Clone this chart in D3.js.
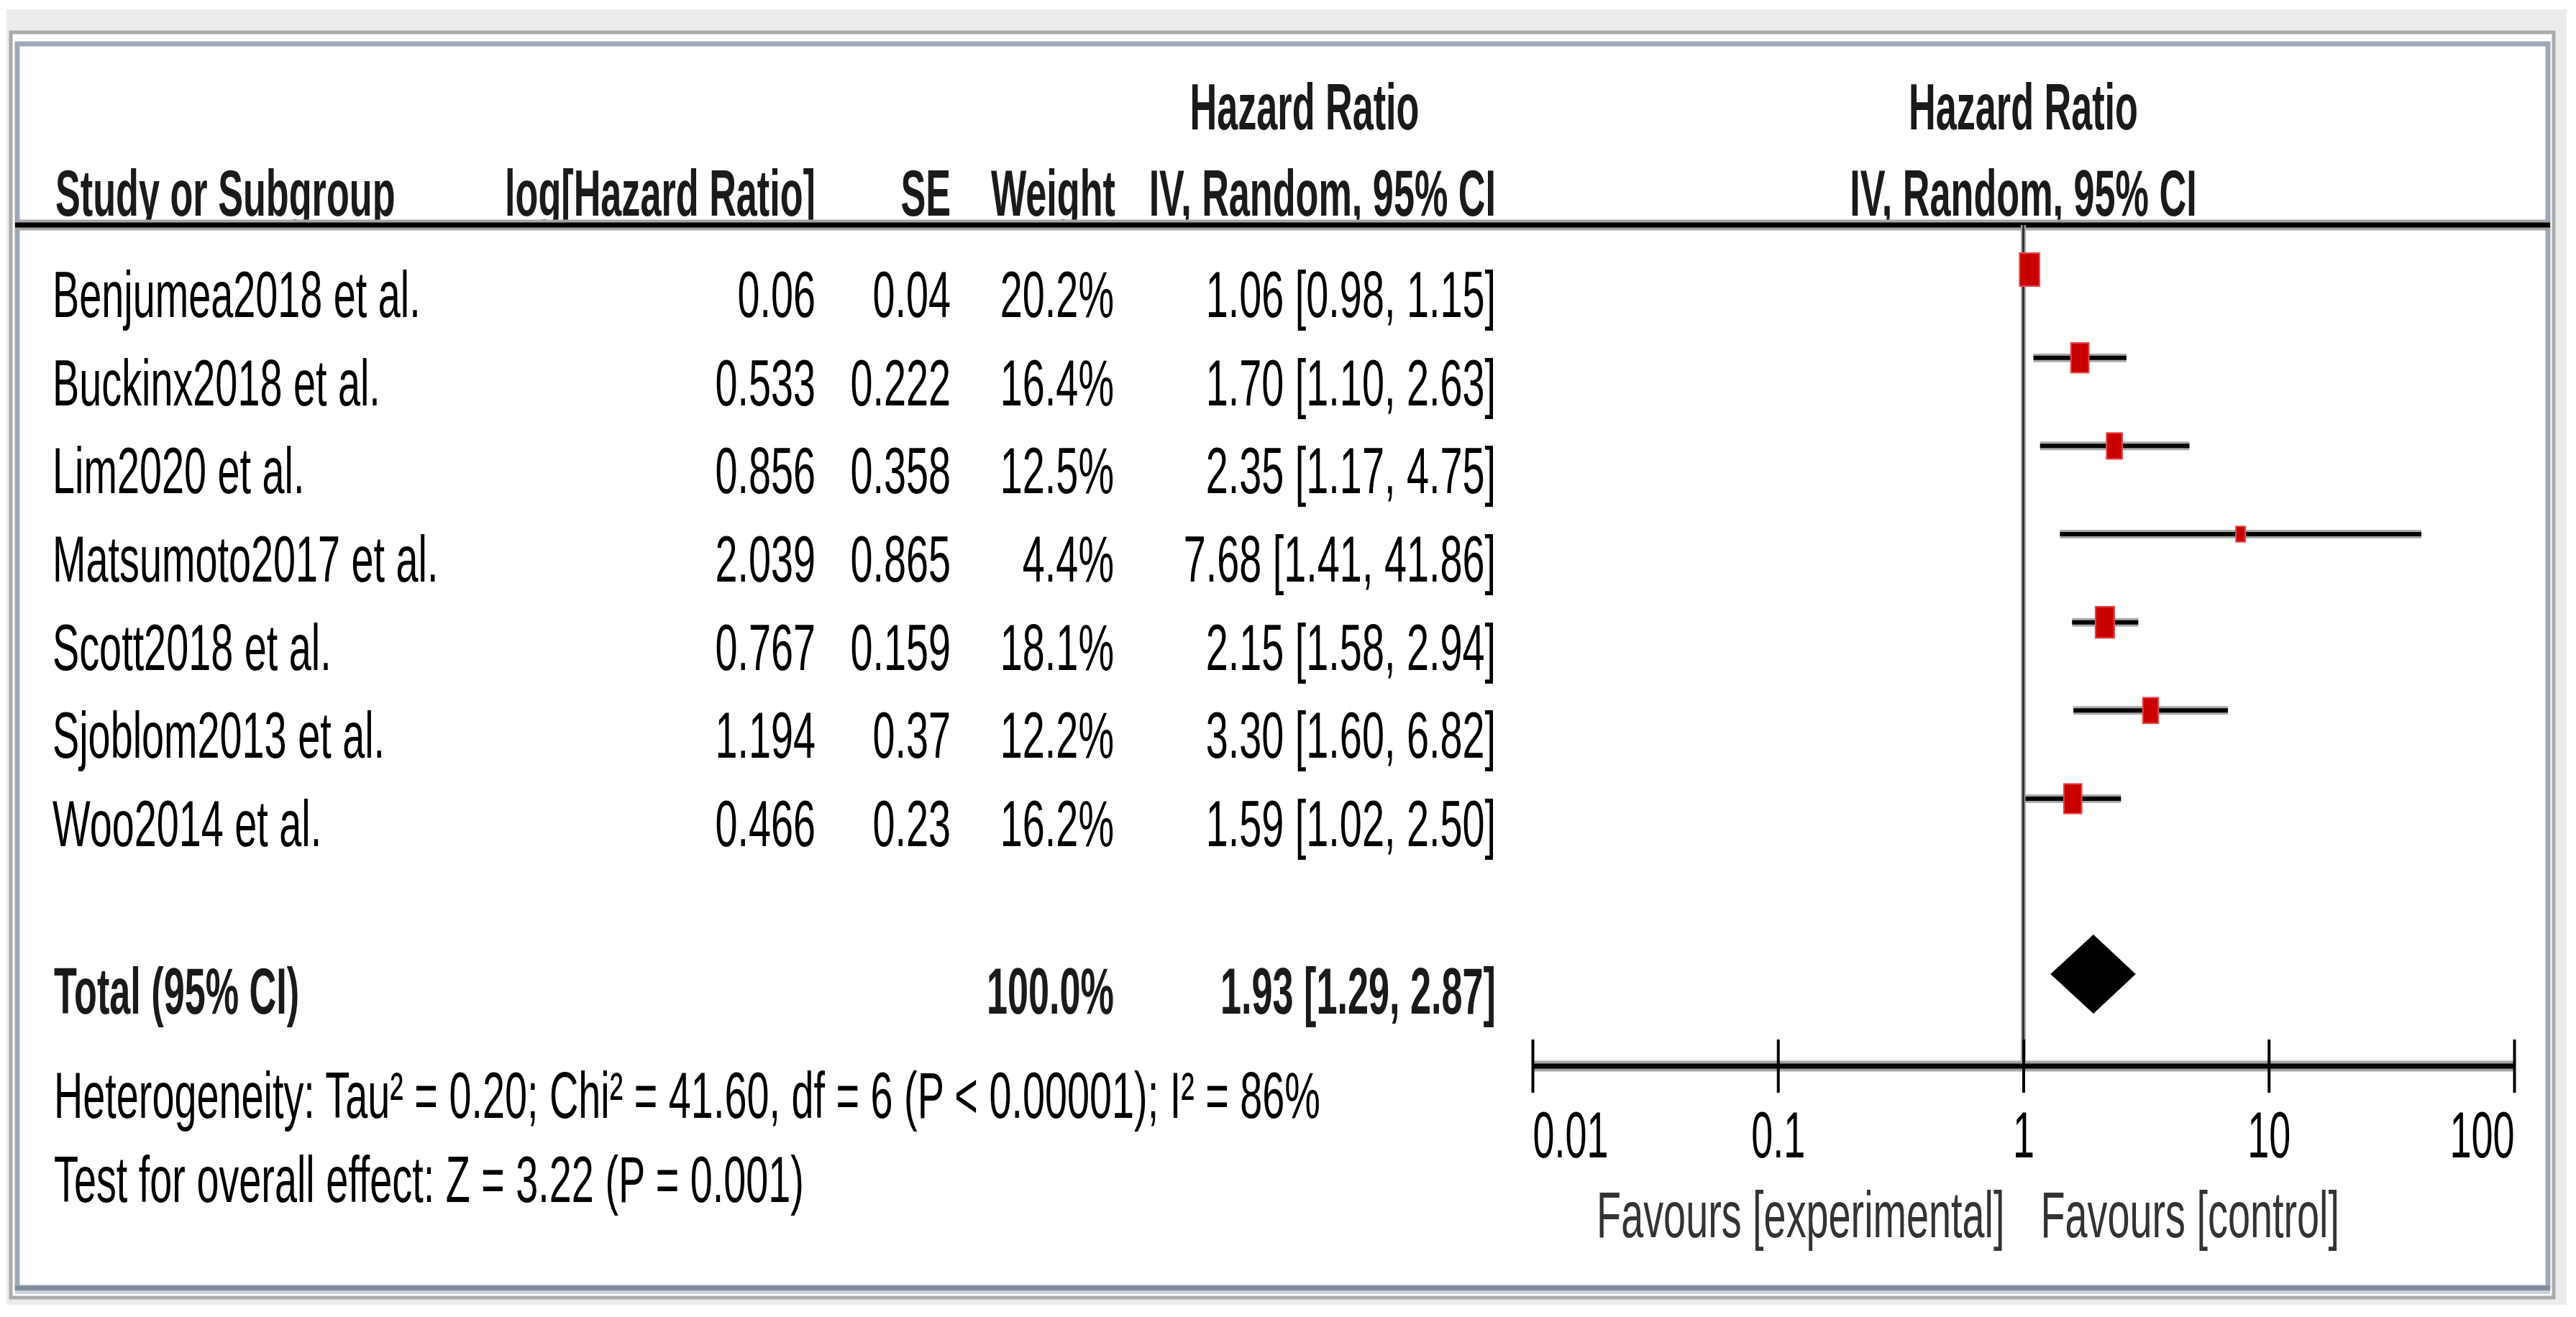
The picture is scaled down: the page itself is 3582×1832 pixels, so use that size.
<!DOCTYPE html>
<html>
<head>
<meta charset="utf-8">
<script src="https://cdn.jsdelivr.net/npm/d3@7"></script>
<style>
  body { margin: 0; background: #fff; }
  text { font-family: "Liberation Sans", Arial, sans-serif; }
</style>
</head>
<body>
<div id="chart"></div>
<script>
// data
var studies = ["Benjumea2018 et al.", "Buckinx2018 et al.", "Lim2020 et al.", "Matsumoto2017 et al.",
               "Scott2018 et al.", "Sjoblom2013 et al.", "Woo2014 et al."];
var logHR  = ["0.06", "0.533", "0.856", "2.039", "0.767", "1.194", "0.466"];
var se     = ["0.04", "0.222", "0.358", "0.865", "0.159", "0.37", "0.23"];
var weight = [20.2, 16.4, 12.5, 4.4, 18.1, 12.2, 16.2];
var hr     = [1.06, 1.70, 2.35, 7.68, 2.15, 3.30, 1.59];
var ciLow  = [0.98, 1.10, 1.17, 1.41, 1.58, 1.60, 1.02];
var ciHigh = [1.15, 2.63, 4.75, 41.86, 2.94, 6.82, 2.50];
var totalHR = [1.93, 1.29, 2.87];   // estimate, low, high
var totalWeight = 100.0;
var axisTicks = [0.01, 0.1, 1, 10, 100];
var heterogeneity = "Heterogeneity: Tau\u00b2 = 0.20; Chi\u00b2 = 41.60, df = 6 (P < 0.00001); I\u00b2 = 86%";
var overallTest = "Test for overall effect: Z = 3.22 (P = 0.001)";

var width = 3582, height = 1832;
var FS = 90, SX = 0.62, SXB = 0.58;   // the source text is strongly condensed

var svg = d3.select("#chart").append("svg")
    .attr("width", width)
    .attr("height", height);

// window frame
svg.append("rect").attr("x", 9).attr("y", 13).attr("width", 3560).attr("height", 1802).attr("fill", "#ececec");
svg.append("rect").attr("x", 15).attr("y", 45).attr("width", 3536).attr("height", 1760)
    .attr("fill", "#fff").attr("stroke", "#aaaaaa").attr("stroke-width", 5);
svg.append("rect").attr("x", 24).attr("y", 61).attr("width", 3519).attr("height", 1730)
    .attr("fill", "none").attr("stroke", "#9ca9b8").attr("stroke-width", 7);
svg.append("line").attr("x1", 21).attr("x2", 3546).attr("y1", 1792).attr("y2", 1792)
    .attr("stroke", "#7f8c99").attr("stroke-width", 7);
svg.append("line").attr("x1", 21).attr("x2", 3546).attr("y1", 1798).attr("y2", 1798)
    .attr("stroke", "#c9d3de").attr("stroke-width", 4);

function txt(x, y, s, anchor, bold, color) {
    return svg.append("text")
        .attr("transform", "translate(" + x + "," + y + ") scale(" + (bold ? SXB : SX) + ",1)")
        .attr("text-anchor", anchor || "start")
        .attr("font-size", FS)
        .attr("font-weight", bold ? "bold" : "normal")
        .attr("fill", color || "#000")
        .text(s);
}

var xScale = d3.scaleLog().domain([0.01, 100]).range([2131, 3496]);
var yScale = d3.scalePoint().domain(studies).range([441, 1177]);
var boxH = d3.scaleSqrt().domain([0, 20.2]).range([0, 46]);
var fmt2 = d3.format(".2f");
var ciText = function(e, l, h) { return fmt2(e) + " [" + fmt2(l) + ", " + fmt2(h) + "]"; };

var colName = 73, colLog = 1134, colSE = 1322, colW = 1549, colCI = 2080;
var axisY = 1483, headY = 313, markDy = -66;

// headers
txt(1814, 180, "Hazard Ratio", "middle", true, "#1a1a1a");
txt(xScale(1), 180, "Hazard Ratio", "middle", true, "#1a1a1a");
txt(77, 300, "Study or Subgroup", "start", true, "#1a1a1a");
txt(colLog, 300, "log[Hazard Ratio]", "end", true, "#1a1a1a");
txt(colSE, 300, "SE", "end", true, "#1a1a1a");
txt(colW + 2, 300, "Weight", "end", true, "#1a1a1a");
txt(colCI, 300, "IV, Random, 95% CI", "end", true, "#1a1a1a");
txt(xScale(1), 300, "IV, Random, 95% CI", "middle", true, "#1a1a1a");

svg.append("line").attr("x1", 21).attr("x2", 3546).attr("y1", headY).attr("y2", headY)
    .attr("stroke", "#a5a5a5").attr("stroke-width", 15);
svg.append("line").attr("x1", 21).attr("x2", 3546).attr("y1", headY).attr("y2", headY)
    .attr("stroke", "#000").attr("stroke-width", 7);

// line of no effect
svg.append("line").attr("x1", xScale(1)).attr("x2", xScale(1)).attr("y1", headY).attr("y2", axisY)
    .attr("stroke", "#aaa").attr("stroke-width", 7);
svg.append("line").attr("x1", xScale(1)).attr("x2", xScale(1)).attr("y1", headY).attr("y2", axisY)
    .attr("stroke", "#333").attr("stroke-width", 3);

// study rows
studies.forEach(function(s, i) {
    var y = yScale(s);
    txt(colName, y, s, "start");
    txt(colLog, y, logHR[i], "end");
    txt(colSE, y, se[i], "end");
    txt(colW, y, weight[i].toFixed(1) + "%", "end");
    txt(colCI, y, ciText(hr[i], ciLow[i], ciHigh[i]), "end");
});

var rows = svg.append("g").selectAll("g")
    .data(studies)
    .enter()
    .append("g");

rows.append("line")
    .attr("x1", function(d, i) { return xScale(ciLow[i]); })
    .attr("x2", function(d, i) { return xScale(ciHigh[i]); })
    .attr("y1", function(d) { return yScale(d) + markDy; })
    .attr("y2", function(d) { return yScale(d) + markDy; })
    .attr("stroke", "#aaa").attr("stroke-width", 12);
rows.append("line")
    .attr("x1", function(d, i) { return xScale(ciLow[i]); })
    .attr("x2", function(d, i) { return xScale(ciHigh[i]); })
    .attr("y1", function(d) { return yScale(d) + markDy; })
    .attr("y2", function(d) { return yScale(d) + markDy; })
    .attr("stroke", "#000").attr("stroke-width", 6);
rows.append("rect")
    .attr("x", function(d, i) { return xScale(hr[i]) - boxH(weight[i]) * 0.3; })
    .attr("y", function(d, i) { return yScale(d) + markDy - boxH(weight[i]) / 2; })
    .attr("width", function(d, i) { return boxH(weight[i]) * 0.6; })
    .attr("height", function(d, i) { return boxH(weight[i]); })
    .attr("fill", "#c80000")
    .attr("stroke", "#e84848").attr("stroke-width", 2);

// total row
var totalY = 1410;
txt(75, totalY, "Total (95% CI)", "start", true, "#1a1a1a");
txt(colW, totalY, totalWeight.toFixed(1) + "%", "end", true, "#1a1a1a");
txt(colCI, totalY, ciText(totalHR[0], totalHR[1], totalHR[2]), "end", true, "#1a1a1a");

var dy = totalY - 55;
svg.append("path")
    .attr("d", "M" + xScale(totalHR[1]) + "," + dy +
               "L" + xScale(totalHR[0]) + "," + (dy - 55) +
               "L" + xScale(totalHR[2]) + "," + dy +
               "L" + xScale(totalHR[0]) + "," + (dy + 55) + "Z")
    .attr("fill", "#000");

txt(75, 1555, heterogeneity, "start");
txt(75, 1672, overallTest, "start");

// axis
svg.append("line").attr("x1", xScale(0.01)).attr("x2", xScale(100)).attr("y1", axisY).attr("y2", axisY)
    .attr("stroke", "#a5a5a5").attr("stroke-width", 15);
svg.append("line").attr("x1", xScale(0.01)).attr("x2", xScale(100)).attr("y1", axisY).attr("y2", axisY)
    .attr("stroke", "#000").attr("stroke-width", 7);

var xAxis = d3.axisBottom(xScale)
    .tickValues(axisTicks)
    .tickFormat(function(d) { return String(d); });

var axisG = svg.append("g")
    .attr("transform", "translate(0," + axisY + ")")
    .call(xAxis);
axisG.select(".domain").remove();
axisG.selectAll(".tick line")
    .attr("y1", -37).attr("y2", 37)
    .attr("stroke", "#000").attr("stroke-width", 4);
axisG.selectAll(".tick text")
    .attr("y", 0).attr("dy", 0)
    .attr("transform", "translate(0,127) scale(0.6,1)")
    .attr("font-size", FS)
    .attr("font-family", "Liberation Sans, Arial, sans-serif")
    .attr("fill", "#000")
    .attr("text-anchor", function(d, i) {
        return i === 0 ? "start" : (i === axisTicks.length - 1 ? "end" : "middle");
    });

txt(xScale(1) - 26, 1721, "Favours [experimental]", "end", false, "#333");
txt(xScale(1) + 24, 1721, "Favours [control]", "start", false, "#333");
</script>
</body>
</html>
